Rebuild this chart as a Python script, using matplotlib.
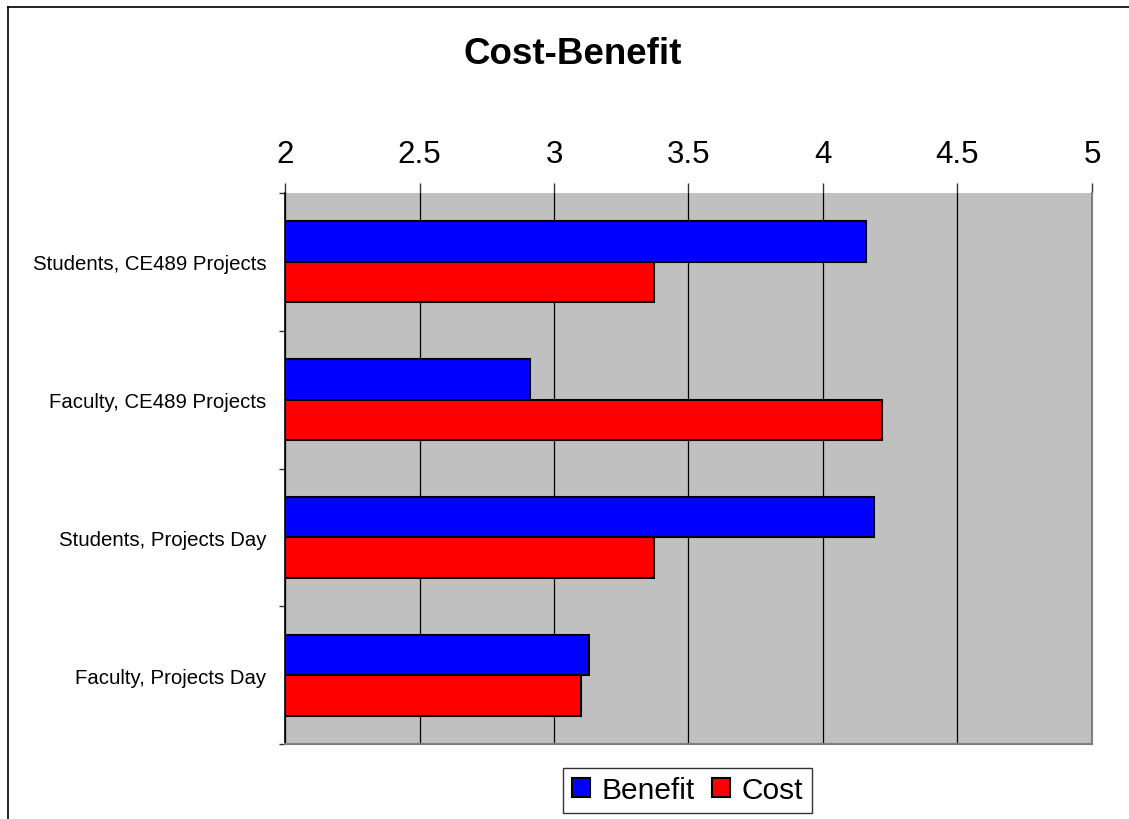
import matplotlib
matplotlib.use("Agg")
import matplotlib.pyplot as plt
from matplotlib.lines import Line2D
import numpy as np

plt.rcParams['font.family'] = ['Liberation Sans', 'DejaVu Sans']

categories = ["Students, CE489 Projects", "Faculty, CE489 Projects",
              "Students, Projects Day", "Faculty, Projects Day"]
benefit = [4.16, 2.91, 4.19, 3.13]
cost = [3.37, 4.22, 3.37, 3.10]
x_ticks = [2, 2.5, 3, 3.5, 4, 4.5, 5]
x_tick_labels = ["2", "2.5", "3", "3.5", "4", "4.5", "5"]

W, H = 1129, 820
fig = plt.figure(figsize=(W / 100, H / 100), dpi=100)
ax = fig.add_axes([285 / W, 1 - 745 / H, (1092 - 285) / W, (745 - 194) / H])

pos = np.arange(len(categories))
bh = 0.294
ax.barh(pos - bh / 2, [b - 2 for b in benefit], left=2, height=bh,
        color="#0000FF", edgecolor="black", linewidth=1.5, label="Benefit", zorder=3)
ax.barh(pos + bh / 2, [c - 2 for c in cost], left=2, height=bh,
        color="#FF0000", edgecolor="black", linewidth=1.5, label="Cost", zorder=3)

ax.set_xlim(2, 5)
ax.set_ylim(len(categories) - 0.5, -0.5)
ax.set_facecolor("#C0C0C0")

# value axis along the top
ax.xaxis.tick_top()
ax.set_xticks(x_ticks)
ax.set_xticklabels(x_tick_labels, fontsize=22.5)
ax.tick_params(axis="x", direction="out", length=7.2, width=1, color="#333333", pad=10)
ax.grid(axis="x", color="black", linewidth=0.9, zorder=1)

# category axis: ticks at band boundaries, labels centred in the bands
ax.set_yticks(np.arange(len(categories) + 1) - 0.5)
ax.set_yticklabels([])
ax.set_yticks(pos, minor=True)
ax.set_yticklabels(categories, minor=True, fontsize=14.7)
ax.tick_params(axis="y", which="major", direction="out", length=4.3, width=1, color="#333333")
ax.tick_params(axis="y", which="minor", length=0, pad=13.5)

ax.spines["top"].set_visible(False)
ax.spines["left"].set_color("black")
ax.spines["left"].set_linewidth(1.2)
for side in ["right", "bottom"]:
    ax.spines[side].set_color("#808080")
    ax.spines[side].set_linewidth(1.5)

fig.text(572.5 / W, 1 - 54 / H, "Cost-Benefit", ha="center", va="center",
         fontsize=26.5, fontweight="bold")

leg = fig.legend(loc="center", bbox_to_anchor=(687.5 / W, 1 - 791.5 / H), ncol=2,
                 fontsize=21.5, frameon=True, fancybox=False, edgecolor="black",
                 handlelength=0.6, handleheight=0.6, handletextpad=0.38,
                 columnspacing=0.6, borderpad=0.3, borderaxespad=0)
leg.get_frame().set_linewidth(1.0)

# outer chart border
fig.add_artist(Line2D([8 / W, 8 / W], [0, 1 - 8 / H], color="black", linewidth=1.2,
                      transform=fig.transFigure))
fig.add_artist(Line2D([8 / W, 1], [1 - 8 / H, 1 - 8 / H], color="black", linewidth=1.2,
                      transform=fig.transFigure))

fig.savefig("out.png", dpi=100)
